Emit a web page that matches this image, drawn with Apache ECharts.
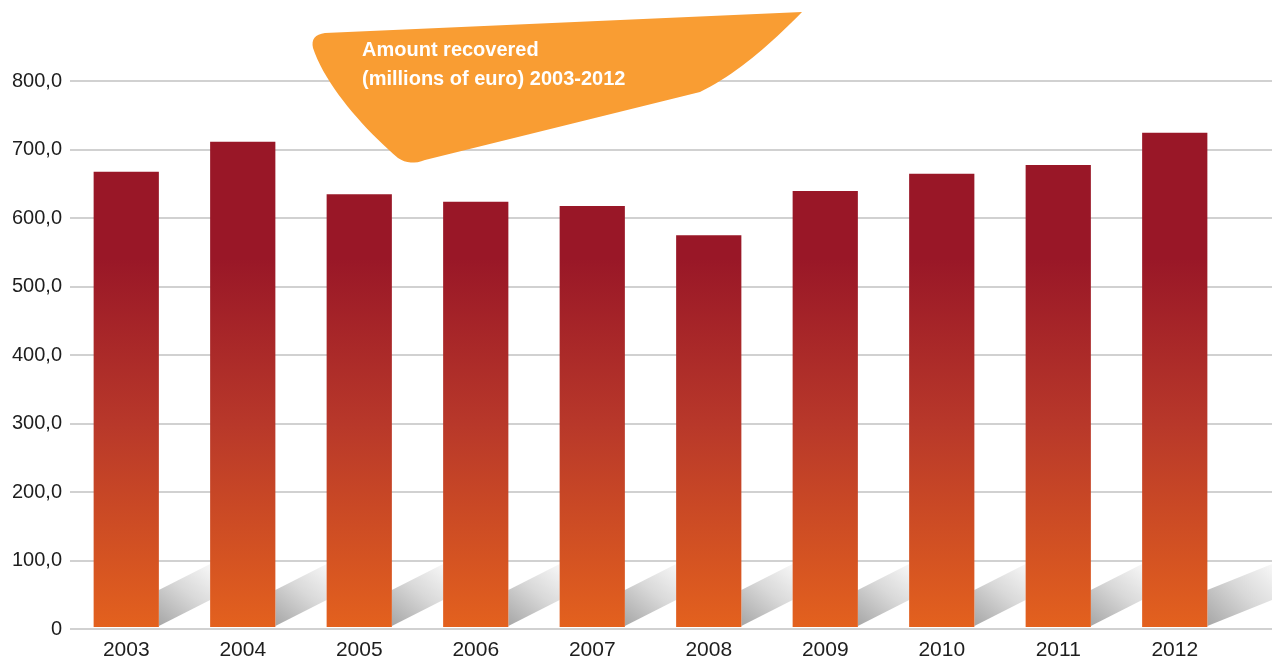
<!DOCTYPE html>
<html>
<head>
<meta charset="utf-8">
<script src="https://cdn.jsdelivr.net/npm/echarts@6/dist/echarts.min.js"></script>
<style>
  html, body { margin: 0; padding: 0; background: #fff; }
  #chart { width: 1272px; height: 661px; }
</style>
</head>
<body>
<div id="chart"></div>
<script>
// Amount recovered per year, millions of euro
const years = ['2003', '2004', '2005', '2006', '2007', '2008', '2009', '2010', '2011', '2012'];
const amounts = [667, 711, 634, 623, 617, 574, 639, 664, 677, 724];
const yTicks = [0, 100, 200, 300, 400, 500, 600, 700, 800];
const titleLines = ['Amount recovered', '(millions of euro) 2003-2012'];

const DARK = '#991727';
const MID = '#B8382A';
const ORANGE = '#E3611E';
const FADE_FROM = 540; // value above which bars are solid dark red

const chart = echarts.init(document.getElementById('chart'));

const fmtTick = v => (v === 0 ? '0' : v.toFixed(1).replace('.', ','));

function linear(x, y, x2, y2, stops) {
  return { type: 'linear', x: x, y: y, x2: x2, y2: y2, colorStops: stops, global: false };
}

// gradient shared by all bars: solid dark red above FADE_FROM, easing to orange at zero
function barColor(params) {
  const v = params.value;
  const start = Math.max(0, (v - FADE_FROM) / v);
  const mid = start + (1 - start) * 0.45;
  return linear(0, 0, 0, 1, [
    { offset: 0, color: DARK },
    { offset: start, color: DARK },
    { offset: mid, color: MID },
    { offset: 1, color: ORANGE }
  ]);
}

// grey slanted strip running from each bar's foot toward the next bar
function renderShadow(params, api) {
  const i = params.dataIndex;
  const base = api.coord([i, 0]);
  const band = api.size([1, 0])[0];
  const barW = band * 0.56;
  const x0 = base[0] + barW / 2;
  let x1 = x0 + (band - barW);
  if (i === years.length - 1) x1 = api.getWidth();
  const y0 = base[1] - 1;
  const h = 36;
  const rise = 26;
  return {
    type: 'polygon',
    shape: { points: [[x0, y0], [x0, y0 - h], [x1, y0 - h - rise], [x1, y0 - rise]] },
    style: {
      fill: linear(0, 1, 1, 0, [
        { offset: 0, color: '#a6a6a6' },
        { offset: 0.55, color: '#d9d9d9' },
        { offset: 1, color: '#f7f7f7' }
      ])
    },
    silent: true
  };
}

// flatten a list of bezier segments into polygon points for the title banner
function cubic(p0, p1, p2, p3, n) {
  const out = [];
  for (let k = 1; k <= n; k++) {
    const t = k / n, u = 1 - t;
    out.push([
      u * u * u * p0[0] + 3 * u * u * t * p1[0] + 3 * u * t * t * p2[0] + t * t * t * p3[0],
      u * u * u * p0[1] + 3 * u * u * t * p1[1] + 3 * u * t * t * p2[1] + t * t * t * p3[1]
    ]);
  }
  return out;
}
function quad(p0, p1, p2, n) {
  const out = [];
  for (let k = 1; k <= n; k++) {
    const t = k / n, u = 1 - t;
    out.push([u * u * p0[0] + 2 * u * t * p1[0] + t * t * p2[0], u * u * p0[1] + 2 * u * t * p1[1] + t * t * p2[1]]);
  }
  return out;
}
const bannerPoints = [[325, 33], [802, 12]]
  .concat(cubic([802, 12], [770, 45], [735, 75], [700, 92], 20))
  .concat([[425, 160]])
  .concat(quad([425, 160], [410, 166], [398, 158], 8))
  .concat(cubic([398, 158], [365, 130], [325, 85], [313, 48], 20))
  .concat(quad([313, 48], [310, 35], [325, 33], 8));

const option = {
  backgroundColor: '#ffffff',
  animation: false,
  grid: [
    { left: 70, right: 0, top: 81, bottom: 32 },
    { left: 68, right: 39, top: 81, bottom: 32 }
  ],
  xAxis: [
    { gridIndex: 0, type: 'value', min: 0, max: 1, show: false },
    {
      gridIndex: 1, type: 'category', data: years,
      axisLine: { show: false }, axisTick: { show: false },
      axisLabel: { color: '#1e1e1e', fontSize: 21, fontFamily: 'Liberation Sans', margin: 13 }
    }
  ],
  yAxis: [
    {
      gridIndex: 0, type: 'value', min: yTicks[0], max: yTicks[yTicks.length - 1], interval: 100,
      axisLine: { show: false }, axisTick: { show: false },
      splitLine: { show: true, lineStyle: { color: '#c2c2c2', width: 1.6 } },
      axisLabel: {
        color: '#1e1e1e', fontSize: 20, fontFamily: 'Liberation Sans', margin: 8,
        formatter: fmtTick
      }
    },
    {
      gridIndex: 1, type: 'value', min: yTicks[0], max: yTicks[yTicks.length - 1], interval: 100,
      show: false, splitLine: { show: false }
    }
  ],
  series: [
    {
      type: 'custom', xAxisIndex: 1, yAxisIndex: 1,
      data: amounts, renderItem: renderShadow, z: 1
    },
    {
      type: 'bar', xAxisIndex: 1, yAxisIndex: 1,
      data: amounts, barWidth: '56%',
      itemStyle: { color: barColor }, z: 3
    }
  ],
  graphic: [
    {
      type: 'polygon', z: 10,
      shape: { points: bannerPoints },
      style: { fill: '#F99D33' }
    },
    {
      type: 'text', z: 11, left: 362, top: 36,
      style: {
        text: titleLines.join('\n'), fill: '#ffffff',
        font: 'bold 20px "Liberation Sans"', lineHeight: 29
      }
    }
  ]
};

chart.setOption(option);
</script>
</body>
</html>
